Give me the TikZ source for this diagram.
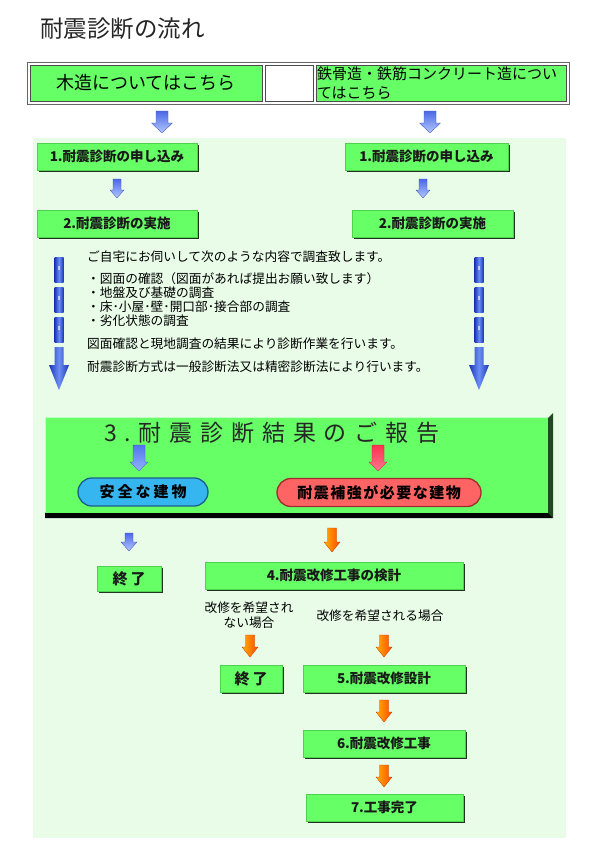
\documentclass[tikz,border=0pt]{standalone}
\usepackage{fontspec}
\setmainfont{Noto Sans CJK JP}
\newfontfamily\jpwide[LetterSpace=34]{Noto Sans CJK JP}
\newfontfamily\jpsafe[LetterSpace=20]{Noto Sans CJK JP}
\newfontfamily\jpmid[LetterSpace=10]{Noto Sans CJK JP}
\usetikzlibrary{shadows}
\definecolor{bggreen}{HTML}{E8FCE8}
\definecolor{boxgreen}{HTML}{66FF66}
\definecolor{boxedge}{HTML}{4FD04F}
\definecolor{shadowc}{HTML}{1E361E}
\definecolor{darkgreen}{HTML}{1F4A1F}
\definecolor{safeblue}{HTML}{36B6F0}
\definecolor{safeedge}{HTML}{1C5E8C}
\definecolor{dangerred}{HTML}{FF6464}
\definecolor{dangeredge}{HTML}{9C2E2E}
\definecolor{blueA}{HTML}{4C68E6}
\definecolor{blueB}{HTML}{B2C8FF}
\definecolor{segdark}{HTML}{1A36B8}
\definecolor{seglight}{HTML}{6C8EF4}
\definecolor{orA}{HTML}{FFB000}
\definecolor{orB}{HTML}{FF4A00}
\definecolor{redA}{HTML}{FF3050}
\definecolor{redB}{HTML}{FF7890}
\definecolor{inblueA}{HTML}{5275EE}
\definecolor{inblueB}{HTML}{93B2FF}
\newcommand{\blkarrow}[7]{%
  \path[#7] ({#1-#4},#2) -- ({#1+#4},#2) -- ({#1+#4},{#3-#6}) -- ({#1+#5},{#3-#6})
    -- (#1,#3) -- ({#1-#5},{#3-#6}) -- ({#1-#4},{#3-#6}) -- cycle;}
\newcommand{\segarrow}[1]{%
  \foreach \ya/\yb in {257/282,287/312,317/342}{
    \path[segfill] ({#1-4.5},\ya) rectangle ({#1+4.5},\yb);
    \fill[white,opacity=0.6] ({#1-1.5},{\ya+9}) rectangle ({#1+0.5},{\ya+13});}
  \path[segfill] ({#1-4.5},347) -- ({#1+4.5},347) -- ({#1+4.5},365) -- ({#1+10},365)
    -- (#1,390) -- ({#1-10},365) -- ({#1-4.5},365) -- cycle;}
\tikzset{
  stepbox/.style={draw=boxedge, line width=0.5pt, fill=boxgreen, minimum height=27pt,
    inner sep=0pt, text=black!90, font=\bfseries\fontsize{13.5}{16}\selectfont,
    drop shadow={shadow xshift=1.8pt, shadow yshift=-1.8pt, opacity=1, fill=shadowc}},
  cell/.style={draw=black!70, line width=0.8pt, minimum height=36pt, inner sep=0pt},
  txt/.style={inner sep=0pt, text=black, font=\fontsize{12.7}{15}\selectfont},
  bluearrow/.style={top color=blueA, bottom color=blueB, draw=blueA!80!black, line width=0.3pt},
  orarrow/.style={left color=orA, right color=orB, draw=orB!80!black, line width=0.3pt},
  segfill/.style={left color=segdark, right color=segdark, middle color=seglight},
  pill/.style={rounded corners=14pt, line width=1.3pt, minimum height=28pt, inner sep=0pt}
}
\begin{document}
\begin{tikzpicture}[x=1pt,y=-1pt]
\useasboundingbox (0,0) rectangle (595,843);
\fill[white] (0,0) rectangle (595,843);
% title
\node[anchor=west, inner sep=0pt, text=black!85, font=\fontsize{23.5}{27}\selectfont] (title) at (40,29) {耐震診断の流れ};
% top table
\draw[draw=black!60, line width=0.8pt] (27,62) rectangle (569,104);
\node[cell, fill=boxgreen, minimum width=232pt, font=\fontsize{18}{22}\selectfont] (wood) at (146,83) {木造についてはこちら};
\node[cell, fill=white, minimum width=48pt] (blank) at (289,83) {};
\node[cell, fill=boxgreen, minimum width=250pt, text width=248pt, align=left, font=\fontsize{15}{19}\selectfont] (steel) at (441,83) {鉄骨造・鉄筋コンクリート造につい\\てはこちら};
\blkarrow{162}{111}{133}{6}{10.5}{10}{bluearrow}
\blkarrow{430}{111}{133}{6}{10.5}{10}{bluearrow}
% background
\fill[bggreen] (33,138) rectangle (566,838);
% step 1 and 2
\node[stepbox, minimum width=160pt] (l1) at (117,156.5) {1.耐震診断の申し込み};
\node[stepbox, minimum width=163pt] (r1) at (426.5,156.5) {1.耐震診断の申し込み};
\blkarrow{117}{179}{198}{4}{7}{8}{bluearrow}
\blkarrow{423}{179}{198}{4}{7}{8}{bluearrow}
\node[stepbox, minimum width=160pt] (l2) at (117,223.5) {2.耐震診断の実施};
\node[stepbox, minimum width=161pt] (r2) at (432.5,223.5) {2.耐震診断の実施};
% segmented arrows
\segarrow{59}
\segarrow{479}
% explanation
\node[txt, anchor=west] (t1) at (87,257) {ご自宅にお伺いして次のような内容で調査致します。};
\node[txt, anchor=west] (t2) at (87,279) {・図面の確認（図面があれば提出お願い致します）};
\node[txt, anchor=west] (t3) at (87,293) {・地盤及び基礎の調査};
\node[txt, anchor=west] (t4) at (87,307) {・床･小屋･壁･開口部･接合部の調査};
\node[txt, anchor=west] (t5) at (87,321) {・劣化状態の調査};
\node[txt, anchor=west] (t6) at (87,344) {図面確認と現地調査の結果により診断作業を行います。};
\node[txt, anchor=west] (t7) at (87,367) {耐震診断方式は一般診断法又は精密診断法により行います。};
% report box
\fill[black] (45,512) -- (549,512) -- (553,518) -- (45,518) -- cycle;
\fill[darkgreen] (548,418) -- (553,413) -- (553,518) -- (548,513) -- cycle;
\node[fill=boxgreen, minimum width=503pt, minimum height=95pt, inner sep=0pt] (report) at (296.5,465) {};
\draw[white!60!boxgreen, line width=1pt] (45.5,512) -- (45.5,417.5) -- (548,417.5);
\node[anchor=west, inner sep=0pt, text=black!85, font=\jpwide\fontsize{23}{27}\selectfont] (rtitle) at (104,433) {3.耐震診断結果のご報告};
\blkarrow{139}{445}{471}{6}{9}{9}{top color=inblueA, bottom color=inblueB, draw=inblueA!70!black, line width=0.3pt}
\blkarrow{378}{445}{471}{6}{9}{9}{top color=redA, bottom color=redB, draw=redA!70!black, line width=0.3pt}
\node[pill, fill=safeblue, draw=safeedge, minimum width=130pt, font=\jpsafe\bfseries\fontsize{15}{18}\selectfont] (safe) at (143,492) {安全な建物};
\node[pill, fill=dangerred, draw=dangeredge, minimum width=204pt, font=\jpmid\bfseries\fontsize{15}{18}\selectfont] (need) at (379,492.5) {耐震補強が必要な建物};
% after report
\blkarrow{129}{533}{551}{4}{8}{9}{bluearrow}
\blkarrow{332}{528}{552}{4.5}{8}{10}{orarrow}
\node[stepbox, minimum width=64pt, minimum height=25pt, font=\jpsafe\bfseries\fontsize{15}{18}\selectfont] (end1) at (129,578.5) {終了};
\node[stepbox, minimum width=258pt] (s4) at (334,575.5) {4.耐震改修工事の検計};
\node[txt, align=center] (nowish) at (249,615.5) {改修を希望され\\ない場合};
\node[txt] (wish) at (380,616) {改修を希望される場合};
\blkarrow{250}{635}{657}{4.5}{8}{10}{orarrow}
\blkarrow{384}{635}{657}{4.5}{8}{10}{orarrow}
\node[stepbox, minimum width=62pt, font=\jpsafe\bfseries\fontsize{15}{18}\selectfont] (end2) at (251,678.5) {終了};
\node[stepbox, minimum width=162pt] (s5) at (384,678.5) {5.耐震改修設計};
\blkarrow{384}{700}{722}{4.5}{8}{10}{orarrow}
\node[stepbox, minimum width=162pt] (s6) at (384,743.5) {6.耐震改修工事};
\blkarrow{384}{765}{787}{4.5}{8}{10}{orarrow}
\node[stepbox, minimum width=157pt] (s7) at (384.5,807.5) {7.工事完了};
\end{tikzpicture}
\end{document}
